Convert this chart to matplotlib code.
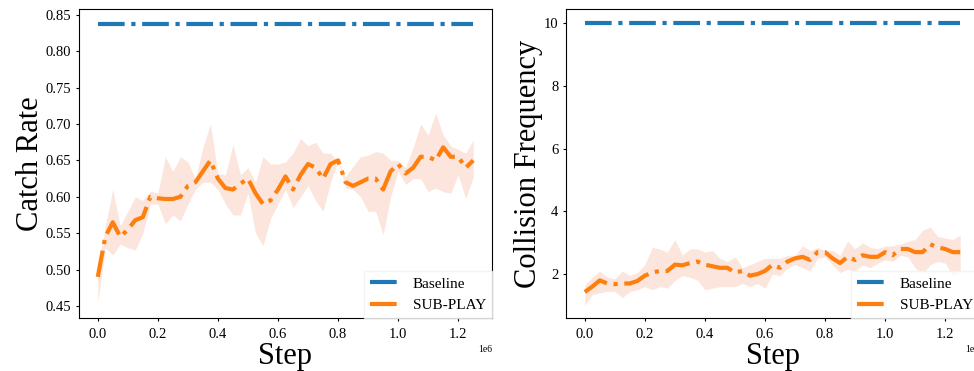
import numpy as np
import matplotlib.pyplot as plt

plt.rcParams['font.family'] = ['Liberation Serif', 'DejaVu Serif']

# steps (x1e6)
steps = np.arange(51) * 0.025e6

catch_baseline = 0.838
catch_mean = [0.49, 0.545, 0.565, 0.545, 0.555, 0.568, 0.572, 0.60, 0.598, 0.597,
              0.597, 0.60, 0.615, 0.62, 0.635, 0.65, 0.625, 0.612, 0.61, 0.618,
              0.625, 0.605, 0.59, 0.595, 0.61, 0.628, 0.61, 0.63, 0.645, 0.64,
              0.625, 0.645, 0.65, 0.62, 0.615, 0.62, 0.625, 0.625, 0.61, 0.635,
              0.645, 0.632, 0.64, 0.655, 0.655, 0.65, 0.668, 0.655, 0.655, 0.64,
              0.65]
catch_hi = [0.50, 0.56, 0.61, 0.56, 0.58, 0.60, 0.595, 0.608, 0.605, 0.655,
            0.635, 0.655, 0.648, 0.625, 0.668, 0.70, 0.632, 0.63, 0.672, 0.63,
            0.64, 0.62, 0.655, 0.645, 0.645, 0.648, 0.66, 0.68, 0.67, 0.675,
            0.66, 0.66, 0.648, 0.628, 0.642, 0.655, 0.657, 0.662, 0.66, 0.65,
            0.65, 0.64, 0.668, 0.70, 0.685, 0.715, 0.685, 0.67, 0.665, 0.66,
            0.678]
catch_lo = [0.455, 0.53, 0.52, 0.535, 0.53, 0.527, 0.55, 0.59, 0.59, 0.563,
            0.575, 0.567, 0.59, 0.61, 0.62, 0.62, 0.61, 0.59, 0.575, 0.575,
            0.605, 0.55, 0.533, 0.57, 0.59, 0.61, 0.585, 0.60, 0.615, 0.595,
            0.58, 0.62, 0.65, 0.612, 0.61, 0.60, 0.58, 0.58, 0.548, 0.60,
            0.635, 0.617, 0.625, 0.625, 0.607, 0.612, 0.607, 0.605, 0.63, 0.597,
            0.627]

coll_baseline = 10.0
coll_mean = [1.43, 1.6, 1.8, 1.7, 1.68, 1.7, 1.7, 1.78, 1.95, 2.05,
             2.1, 2.1, 2.3, 2.28, 2.35, 2.4, 2.3, 2.25, 2.2, 2.2,
             2.05, 2.1, 1.95, 2.0, 2.1, 2.3, 2.2, 2.4, 2.5, 2.55,
             2.45, 2.7, 2.7, 2.5, 2.35, 2.55, 2.45, 2.6, 2.55, 2.55,
             2.7, 2.6, 2.8, 2.8, 2.7, 2.7, 2.95, 2.85, 2.8, 2.7,
             2.7]
coll_hi = [1.65, 1.9, 2.1, 1.9, 1.85, 2.1, 1.95, 2.05, 2.3, 2.85,
           2.8, 2.7, 3.1, 2.6, 2.8, 2.8, 2.7, 2.75, 2.5, 2.4,
           2.55, 2.2, 2.3, 2.4, 2.5, 2.5, 2.5, 2.6, 2.6, 2.9,
           2.75, 2.85, 2.75, 2.75, 2.6, 3.05, 2.8, 3.0, 2.85, 2.8,
           2.9, 2.9, 2.95, 3.05, 3.1, 3.4, 3.5, 3.2, 3.15, 3.1,
           3.25]
coll_lo = [1.0, 1.35, 1.4, 1.45, 1.45, 1.25, 1.45, 1.5, 1.6, 1.5,
           1.6, 1.55, 1.8, 1.95, 1.9, 1.8, 1.5, 1.55, 1.6, 1.6,
           1.6, 1.7, 1.6, 1.7, 1.55, 2.0, 1.95, 2.2, 2.3, 2.2,
           2.1, 2.5, 2.55, 2.3, 2.05, 2.15, 2.1, 2.3, 2.2, 2.35,
           2.45, 2.4, 2.6, 2.55, 2.2, 2.0, 2.3, 2.4, 2.35, 1.95,
           2.1]

fig = plt.figure(figsize=(9.74, 3.71), dpi=100)
ax1 = fig.add_axes([79/974, 1-318/371, 413/974, 309/371])
ax2 = fig.add_axes([566/974, 1-318/371, 413/974, 309/371])


def draw(ax, base, mean, lo, hi, ylabel):
    ax.plot(steps, [base]*len(steps), color='#1f77b4', lw=3, ls='-.', label='Baseline')
    ax.plot(steps, mean, color='#ff7f0e', lw=3, ls='-.', label='SUB-PLAY')
    ax.fill_between(steps, lo, hi, color='#f4a582', alpha=0.28, lw=0)
    ax.set_xlabel('Step', fontsize=22, labelpad=1)
    ax.set_ylabel(ylabel, fontsize=22, labelpad=0.5)
    ax.tick_params(labelsize=10.5, length=2.5, pad=3)
    ax.tick_params(axis='x', pad=4.5)
    ax.xaxis.get_offset_text().set_fontsize(7)
    ax.legend(loc='lower right', fontsize=11, borderaxespad=0.0,
              edgecolor='#f2f2f2', fancybox=False)


draw(ax1, catch_baseline, catch_mean, catch_lo, catch_hi, 'Catch Rate')
ax1.set_ylim(0.4335, 0.858)
ax1.set_yticks(np.arange(0.45, 0.851, 0.05))

draw(ax2, coll_baseline, coll_mean, coll_lo, coll_hi, 'Collision Frequency')
ax2.set_ylim(0.6, 10.45)
ax2.set_yticks([2, 4, 6, 8, 10])

fig.savefig('out.png', dpi=100)
